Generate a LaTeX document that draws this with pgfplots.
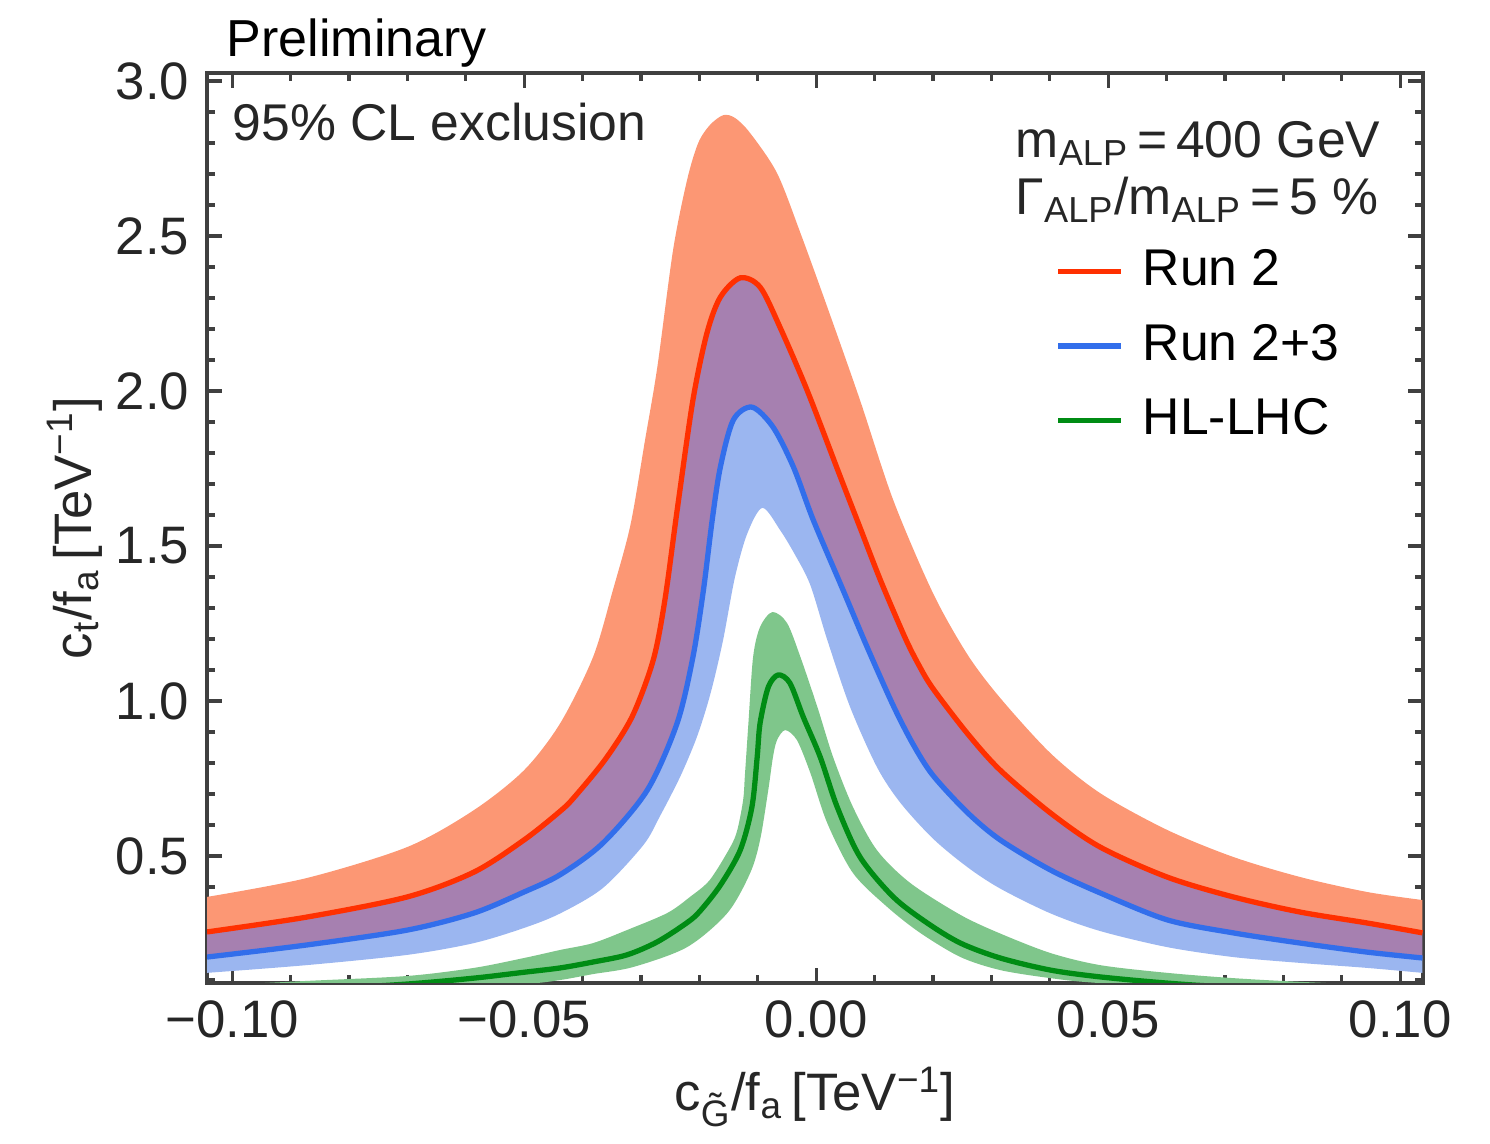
\documentclass[border=0pt]{standalone}
\usepackage{fontspec}
\setmainfont{Liberation Sans}
\usepackage{pgfplots}
\usepackage{pgfplotstable}
\pgfplotsset{compat=1.18}
\usepgfplotslibrary{fillbetween}

\definecolor{bandorange}{RGB}{252,151,116}
\definecolor{bandpurple}{RGB}{166,128,176}
\definecolor{bandblue}{RGB}{155,182,240}
\definecolor{bandgreen}{RGB}{127,198,139}
\definecolor{linered}{RGB}{255,48,0}
\definecolor{lineblue}{RGB}{50,110,235}
\definecolor{linegreen}{RGB}{0,140,20}

% Run 2: upper edge of band and central line
\pgfplotstableread{
x y
-0.1043 0.368
-0.0872 0.429
-0.0700 0.529
-0.0586 0.648
-0.0500 0.777
-0.0438 0.929
-0.0382 1.142
-0.0348 1.358
-0.0318 1.568
-0.0293 1.842
-0.0272 2.077
-0.0245 2.455
-0.0221 2.681
-0.0202 2.800
-0.0182 2.858
-0.0159 2.890
-0.0139 2.881
-0.0113 2.832
-0.0067 2.703
-0.0027 2.510
0.0019 2.271
0.0075 1.971
0.0132 1.648
0.0200 1.348
0.0259 1.150
0.0315 1.010
0.0401 0.832
0.0486 0.703
0.0601 0.584
0.0714 0.497
0.0829 0.432
0.0943 0.384
0.1038 0.358
}\runtwoup

\pgfplotstableread{
x y
-0.1043 0.255
-0.0872 0.303
-0.0700 0.368
-0.0586 0.448
-0.0500 0.552
-0.0438 0.645
-0.0414 0.690
-0.0361 0.812
-0.0315 0.950
-0.0279 1.132
-0.0259 1.326
-0.0238 1.616
-0.0211 1.971
-0.0187 2.187
-0.0164 2.303
-0.0130 2.365
-0.0096 2.335
-0.0062 2.206
-0.0015 2.000
0.0041 1.725
0.0075 1.560
0.0110 1.390
0.0152 1.205
0.0176 1.115
0.0200 1.040
0.0259 0.895
0.0315 0.777
0.0401 0.639
0.0486 0.529
0.0601 0.432
0.0714 0.368
0.0829 0.319
0.0943 0.284
0.1038 0.252
}\runtwo

% Run 2+3: central line and lower edge of band
\pgfplotstableread{
x y
-0.1043 0.174
-0.0872 0.213
-0.0700 0.261
-0.0586 0.316
-0.0500 0.384
-0.0438 0.440
-0.0365 0.542
-0.0289 0.713
-0.0238 0.929
-0.0211 1.142
-0.0193 1.358
-0.0178 1.584
-0.0164 1.755
-0.0142 1.906
-0.0110 1.948
-0.0074 1.884
-0.0039 1.755
-0.0005 1.584
0.0046 1.358
0.0087 1.175
0.0132 0.985
0.0166 0.860
0.0200 0.760
0.0259 0.640
0.0315 0.552
0.0401 0.455
0.0486 0.381
0.0601 0.294
0.0714 0.252
0.0829 0.219
0.0943 0.190
0.1038 0.171
}\runthree

\pgfplotstableread{
x y
-0.1043 0.123
-0.0872 0.148
-0.0700 0.181
-0.0586 0.219
-0.0500 0.268
-0.0438 0.315
-0.0365 0.397
-0.0296 0.535
-0.0267 0.630
-0.0233 0.755
-0.0207 0.870
-0.0190 0.965
-0.0176 1.060
-0.0159 1.200
-0.0139 1.400
-0.0118 1.540
-0.0092 1.623
-0.0062 1.552
-0.0036 1.471
-0.0010 1.374
0.0019 1.197
0.0058 0.981
0.0104 0.787
0.0144 0.672
0.0200 0.556
0.0259 0.464
0.0315 0.395
0.0401 0.315
0.0486 0.258
0.0601 0.206
0.0714 0.174
0.0829 0.155
0.0943 0.139
0.1038 0.123
}\runthreelow

% HL-LHC: upper edge, central line, lower edge
\pgfplotstableread{
x y
-0.1043 0.081
-0.0872 0.097
-0.0700 0.113
-0.0586 0.139
-0.0500 0.171
-0.0438 0.197
-0.0382 0.219
-0.0324 0.261
-0.0255 0.316
-0.0216 0.368
-0.0182 0.423
-0.0147 0.529
-0.0135 0.584
-0.0125 0.681
-0.0122 0.761
-0.0116 0.929
-0.0108 1.142
-0.0096 1.239
-0.0075 1.287
-0.0050 1.252
-0.0027 1.142
0.0002 0.981
0.0029 0.819
0.0063 0.658
0.0104 0.519
0.0161 0.413
0.0247 0.310
0.0315 0.250
0.0401 0.187
0.0486 0.148
0.0601 0.123
0.0714 0.106
0.0829 0.094
0.1038 0.077
}\hlup

\pgfplotstableread{
x y
-0.1043 0.052
-0.0872 0.068
-0.0700 0.087
-0.0586 0.106
-0.0500 0.125
-0.0438 0.139
-0.0382 0.158
-0.0324 0.181
-0.0272 0.223
-0.0221 0.285
-0.0199 0.322
-0.0164 0.406
-0.0130 0.519
-0.0110 0.658
-0.0101 0.819
-0.0096 0.929
-0.0082 1.045
-0.0065 1.084
-0.0045 1.058
-0.0022 0.948
0.0007 0.819
0.0036 0.658
0.0075 0.497
0.0132 0.368
0.0190 0.284
0.0247 0.219
0.0315 0.171
0.0401 0.132
0.0486 0.110
0.0601 0.090
0.0714 0.077
0.1038 0.052
}\hl

\pgfplotstableread{
x y
-0.1043 0.035
-0.0700 0.068
-0.0500 0.087
-0.0438 0.100
-0.0382 0.119
-0.0313 0.142
-0.0221 0.206
-0.0152 0.316
-0.0113 0.445
-0.0096 0.552
-0.0082 0.713
-0.0074 0.819
-0.0067 0.874
-0.0053 0.906
-0.0033 0.874
-0.0010 0.768
0.0019 0.606
0.0063 0.445
0.0122 0.335
0.0178 0.252
0.0247 0.174
0.0315 0.132
0.0401 0.106
0.0486 0.090
0.0714 0.068
0.1038 0.052
}\hllow

\begin{document}
\fontsize{14.7}{18}\selectfont
\begin{tikzpicture}
\begin{axis}[
  name=ax,
  at={(0,0)}, anchor=south west,
  width=12.16cm, height=9.10cm, scale only axis,
  xmin=-0.1043, xmax=0.1039, ymin=0.0903, ymax=3.026,
  xtick={-0.1,-0.05,0,0.05,0.1},
  xticklabels={−0.10,−0.05,0.00,0.05,0.10},
  minor xtick={-0.09,-0.08,-0.07,-0.06,-0.04,-0.03,-0.02,-0.01,0.01,0.02,0.03,0.04,0.06,0.07,0.08,0.09},
  ytick={0.5,1,1.5,2,2.5,3},
  yticklabels={0.5,1.0,1.5,2.0,2.5,3.0},
  minor ytick={0.1,0.2,0.3,0.4,0.6,0.7,0.8,0.9,1.1,1.2,1.3,1.4,1.6,1.7,1.8,1.9,2.1,2.2,2.3,2.4,2.6,2.7,2.8,2.9},
  tick align=inside,
  major tick length=0.15cm, minor tick length=0.08cm,
  tick style={black!75, line width=0.9pt},
  axis line style={black!75, line width=1.1pt},
  ticklabel style={font=\fontsize{15}{18}\selectfont, text=black!85},
  xlabel={c\textsubscript{\~{G}}/f\textsubscript{a}\,[TeV\textsuperscript{−1}]},
  ylabel={c\textsubscript{t}/f\textsubscript{a}\,[TeV\textsuperscript{−1}]},
  label style={font=\fontsize{15}{18}\selectfont, text=black!85},
  xlabel style={at={(axis description cs:0.5,-0.125)}, anchor=center},
  ylabel style={at={(axis description cs:-0.1086,0.5)}, anchor=center},
  legend image code/.code={\draw[#1, line width=1.6pt] (0cm,0cm) -- (0.63cm,0cm);},
  legend style={at={(axis description cs:0.697,0.700)}, anchor=west,
    draw=none, fill=none, inner sep=0pt, row sep=4.7pt,
    font=\fontsize{14.7}{18}\selectfont,
    /tikz/every odd column/.append style={column sep=0.12cm}},
  legend cell align=left,
]
\addplot[name path=ou, draw=none, smooth, forget plot] table {\runtwoup};
\addplot[name path=r, draw=none, smooth, forget plot] table {\runtwo};
\addplot[name path=b, draw=none, smooth, forget plot] table {\runthree};
\addplot[name path=bl, draw=none, smooth, forget plot] table {\runthreelow};
\addplot[name path=gu, draw=none, smooth, forget plot] table {\hlup};
\addplot[name path=gl, draw=none, smooth, forget plot] table {\hllow};

\addplot[fill=bandorange, draw=none, forget plot] fill between[of=ou and r];
\addplot[fill=bandpurple, draw=none, forget plot] fill between[of=r and b];
\addplot[fill=bandblue, draw=none, forget plot] fill between[of=b and bl];
\addplot[fill=bandgreen, draw=none, forget plot] fill between[of=gu and gl];

\addplot[linered, line width=1.5pt, smooth, forget plot] table {\runtwo};
\addplot[lineblue, line width=1.5pt, smooth, forget plot] table {\runthree};
\addplot[linegreen, line width=1.5pt, smooth, forget plot] table {\hl};

\addlegendimage{linered}
\addlegendentry{Run 2}
\addlegendimage{lineblue}
\addlegendentry{Run 2+3}
\addlegendimage{linegreen}
\addlegendentry{HL-LHC}

\node[anchor=base west, inner sep=0pt, text=black!85] at (rel axis cs:0.0206,0.926) {95\% CL exclusion};
\node[anchor=base west, inner sep=0pt, text=black!85] at (rel axis cs:0.6645,0.9066) {m\textsubscript{ALP}\,=\,400 GeV};
\node[anchor=base west, inner sep=0pt, text=black!85] at (rel axis cs:0.6645,0.844) {Γ\textsubscript{ALP}/m\textsubscript{ALP}\,=\,5 \%};
\end{axis}
\node[anchor=base west, inner sep=0pt, text=black, font=\fontsize{14.8}{18}\selectfont, xshift=0.19cm, yshift=0.16cm] at (ax.north west) {Preliminary};
\useasboundingbox (-2.07cm,-1.43cm) rectangle (12.83cm,9.83cm);
\end{tikzpicture}
\end{document}
